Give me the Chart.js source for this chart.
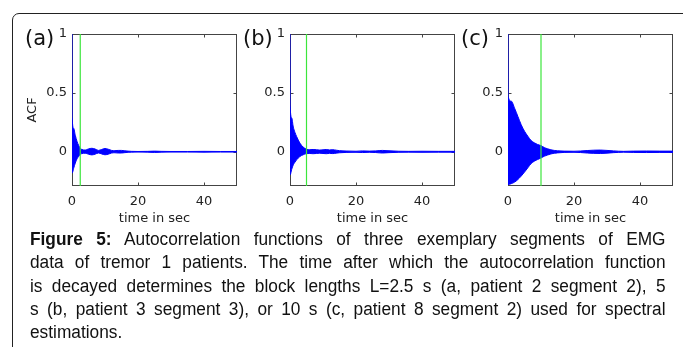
<!DOCTYPE html>
<html lang="en">
<head>
  <meta charset="UTF-8" />
  <title>Figure 5 - ACF</title>
  <script src="https://cdn.jsdelivr.net/npm/chart.js"></script>
  <style>
    html, body { margin: 0; padding: 0; background: #fff; }
    body { width: 683px; height: 347px; position: relative; overflow: hidden; }
    .box { position: absolute; left: 12px; top: 13px; width: 720px; height: 400px;
           border: 1.5px solid #222; border-radius: 7px; }
    canvas { position: absolute; top: 0; }
    #caption { position: absolute; left: 30px; top: 228px; width: 662px;
               transform: scaleX(0.96); transform-origin: left top;
               font-family: "Liberation Sans", Arial, sans-serif; font-size: 18px;
               line-height: 23.3px; color: #111; }
    #caption div { white-space: nowrap; text-align: justify; text-align-last: justify; }
    #caption div.last { text-align-last: left; }
  </style>
</head>
<body>
  <div class="box"></div>
  <canvas id="chartA" width="240" height="230" style="left:0px"></canvas>
  <canvas id="chartB" width="240" height="230" style="left:218px"></canvas>
  <canvas id="chartC" width="240" height="230" style="left:436px"></canvas>

  <div id="caption">
    <div><b>Figure 5:</b> Autocorrelation functions of three exemplary segments of EMG</div>
    <div>data of tremor 1 patients. The time after which the autocorrelation function</div>
    <div>is decayed determines the block lengths L=2.5 s (a, patient 2 segment 2), 5</div>
    <div>s (b, patient 3 segment 3), or 10 s (c, patient 8 segment 2) used for spectral</div>
    <div class="last">estimations.</div>
  </div>

  <script>
    // axes
    const xMin = 0, xMax = 50;
    const yMin = -0.29, yMax = 1;
    const xTickVals = [0, 20, 40];
    const yTickVals = [0, 0.5, 1];
    const yTickText = ['0', '0.5', '1'];
    const panelLabels = ['(a)', '(b)', '(c)'];
    const blockLengths = [2.5, 5, 10];

    // envelope of the ACF (upper / lower)
    const timeA  = [0, 0.05, 0.5, 1, 1.5, 2, 2.5, 3, 4, 5, 6, 7, 8, 9, 10, 11, 12, 13, 14, 15, 16, 17, 18, 20, 23, 25, 27, 30, 35, 40, 45, 50];
    const upperA = [1, 0.29, 0.2, 0.14, 0.09, 0.055, 0.03, 0.02, 0.015, 0.025, 0.03, 0.024, 0.012, 0.02, 0.028, 0.022, 0.012, 0.01, 0.012, 0.012, 0.009, 0.006, 0.004, 0.003, 0.004, 0.006, 0.004, 0.003, 0.003, 0.004, 0.003, 0.003];
    const lowerA = [-0.18, -0.18, -0.14, -0.095, -0.06, -0.04, -0.022, -0.015, -0.012, -0.02, -0.026, -0.02, -0.01, -0.018, -0.025, -0.02, -0.01, -0.008, -0.01, -0.01, -0.007, -0.004, -0.003, -0.002, -0.003, -0.005, -0.003, -0.002, -0.002, -0.003, -0.002, -0.002];

    const timeB  = [0, 0.05, 0.5, 1, 1.5, 2, 3, 4, 5, 6, 7, 8, 9, 10, 11, 12, 13, 14, 15, 17, 20, 22, 24, 26, 28, 30, 33, 36, 40, 45, 50];
    const upperB = [1, 0.39, 0.29, 0.21, 0.165, 0.13, 0.074, 0.04, 0.022, 0.018, 0.02, 0.018, 0.015, 0.017, 0.02, 0.016, 0.018, 0.014, 0.01, 0.007, 0.005, 0.008, 0.006, 0.008, 0.012, 0.009, 0.005, 0.004, 0.005, 0.004, 0.004];
    const lowerB = [-0.195, -0.195, -0.15, -0.11, -0.088, -0.068, -0.04, -0.025, -0.015, -0.014, -0.016, -0.014, -0.012, -0.014, -0.016, -0.013, -0.015, -0.011, -0.008, -0.005, -0.004, -0.006, -0.004, -0.006, -0.01, -0.007, -0.004, -0.003, -0.004, -0.003, -0.003];

    const timeC  = [0, 0.05, 1, 2, 3, 4, 5, 6, 7, 8, 9, 10, 11, 12, 13, 14, 15, 17, 20, 22, 24, 26, 28, 30, 32, 35, 38, 42, 46, 50];
    const upperC = [1, 0.47, 0.43, 0.37, 0.30, 0.23, 0.175, 0.133, 0.096, 0.076, 0.062, 0.053, 0.036, 0.026, 0.017, 0.012, 0.009, 0.006, 0.005, 0.007, 0.011, 0.014, 0.015, 0.012, 0.008, 0.004, 0.006, 0.007, 0.006, 0.006];
    const lowerC = [-0.277, -0.277, -0.27, -0.257, -0.235, -0.206, -0.172, -0.136, -0.10, -0.079, -0.065, -0.052, -0.037, -0.027, -0.018, -0.012, -0.009, -0.005, -0.004, -0.006, -0.01, -0.013, -0.014, -0.011, -0.007, -0.003, -0.005, -0.006, -0.005, -0.005];

    const tickFont = { family: 'DejaVu Sans', size: 13 };
    const textColor = '#222';

    // box around the plot with inward ticks, plus the panel letter
    const framePlugin = {
      id: 'frame',
      beforeDatasetsDraw(chart) {
        const { ctx, chartArea: a, scales: { x, y } } = chart;
        const l = Math.round(a.left) + 0.5, r = Math.round(a.right) - 0.5;
        const t = Math.round(a.top) + 0.5, b = Math.round(a.bottom) - 0.5;
        ctx.save();
        ctx.strokeStyle = '#444';
        ctx.lineWidth = 1;
        ctx.strokeRect(l, t, r - l, b - t);
        ctx.beginPath();
        xTickVals.forEach(v => {
          const px = Math.round(x.getPixelForValue(v)) + 0.5;
          ctx.moveTo(px, b); ctx.lineTo(px, b - 3);
          ctx.moveTo(px, t); ctx.lineTo(px, t + 3);
        });
        yTickVals.forEach(v => {
          const py = Math.round(y.getPixelForValue(v)) + 0.5;
          ctx.moveTo(l, py); ctx.lineTo(l + 3, py);
          ctx.moveTo(r, py); ctx.lineTo(r - 3, py);
        });
        ctx.stroke();
        ctx.restore();
      },
      afterDraw(chart, args, opts) {
        const ctx = chart.ctx;
        ctx.save();
        ctx.font = '21px "DejaVu Sans"';
        ctx.fillStyle = '#111';
        ctx.textBaseline = 'alphabetic';
        ctx.fillText(opts.label, 25, 45);
        ctx.restore();
      }
    };

    function makeChart(id, time, upper, lower, idx) {
      const L = blockLengths[idx];
      new Chart(document.getElementById(id), {
        type: 'line',
        data: {
          datasets: [
            { data: [{ x: L, y: yMin }, { x: L, y: yMax }], borderColor: 'rgb(60,230,60)',
              borderWidth: 1.2, pointRadius: 0, fill: false, order: 0 },
            { data: time.map((t, i) => ({ x: t, y: upper[i] })), borderColor: '#0000ff',
              backgroundColor: '#0000ff', borderWidth: 1, pointRadius: 0, fill: '+1',
              cubicInterpolationMode: 'monotone', order: 1 },
            { data: time.map((t, i) => ({ x: t, y: lower[i] })), borderColor: '#0000ff',
              borderWidth: 1, pointRadius: 0, fill: false,
              cubicInterpolationMode: 'monotone', order: 1 }
          ]
        },
        options: {
          responsive: false,
          animation: false,
          events: [],
          layout: { padding: { left: 0, right: 3, top: 34, bottom: 0 } },
          plugins: {
            legend: { display: false },
            tooltip: { enabled: false },
            frame: { label: panelLabels[idx] }
          },
          scales: {
            x: {
              type: 'linear', min: xMin, max: xMax,
              grid: { display: false, drawTicks: false },
              border: { display: false },
              afterBuildTicks: s => { s.ticks = xTickVals.map(v => ({ value: v })); },
              afterFit: s => { s.height = 44; },
              ticks: { font: tickFont, color: textColor, padding: 8, maxRotation: 0 },
              title: { display: true, text: 'time in sec', font: tickFont, color: textColor,
                       padding: { top: 0, bottom: 4 } }
            },
            y: {
              type: 'linear', min: yMin, max: yMax,
              grid: { display: false, drawTicks: false },
              border: { display: false },
              afterBuildTicks: s => { s.ticks = yTickVals.map(v => ({ value: v })); },
              afterFit: s => { s.width = 72; },
              ticks: { font: tickFont, color: textColor, padding: 5,
                       callback: v => yTickText[yTickVals.indexOf(v)] },
              title: { display: idx === 0, text: 'ACF', font: tickFont, color: textColor,
                       padding: { top: 25, bottom: 0 } }
            }
          }
        },
        plugins: [framePlugin]
      });
    }

    makeChart('chartA', timeA, upperA, lowerA, 0);
    makeChart('chartB', timeB, upperB, lowerB, 1);
    makeChart('chartC', timeC, upperC, lowerC, 2);
  </script>
</body>
</html>
